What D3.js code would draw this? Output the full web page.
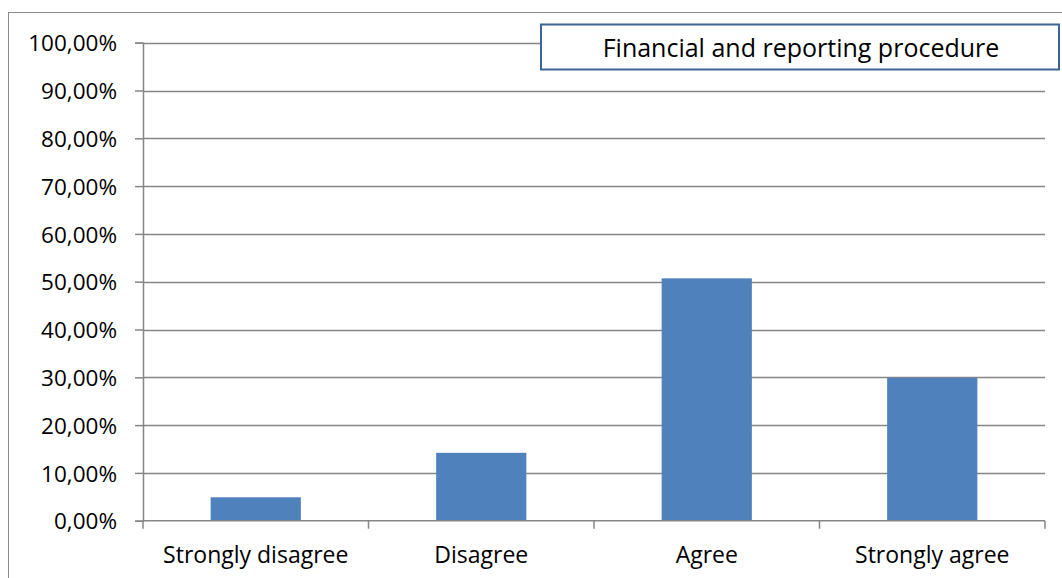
<!DOCTYPE html>
<html>
<head>
<meta charset="utf-8">
<script src="https://cdn.jsdelivr.net/npm/d3@7"></script>
<style>
  html, body { margin: 0; padding: 0; background: #fff; }
  svg { display: block; font-family: "Open Sans", "Noto Sans", sans-serif; }
</style>
</head>
<body>
<svg id="chart" width="1062" height="578"></svg>
<script>
const categories = ["Strongly disagree", "Disagree", "Agree", "Strongly agree"];
const values = [0.049, 0.142, 0.507, 0.299];
const yTicks = [0, 0.1, 0.2, 0.3, 0.4, 0.5, 0.6, 0.7, 0.8, 0.9, 1.0];
const seriesName = "Financial and reporting procedure";

const svg = d3.select("#chart");
const plot = { left: 143, right: 1045, top: 42.7, bottom: 520.7 };

// outer chart border
svg.append("rect")
  .attr("x", 8.5).attr("y", 12.5)
  .attr("width", 1062).attr("height", 600)
  .attr("fill", "none").attr("stroke", "#8c8c8c").attr("stroke-width", 1);

const x = d3.scaleBand().domain(categories)
  .range([plot.left, plot.right]).paddingInner(0.6).paddingOuter(0.3);
const y = d3.scaleLinear().domain([0, 1]).range([plot.bottom, plot.top]);

const fmt = v => d3.format(".2f")(v * 100).replace(".", ",") + "%";

// gridlines
svg.append("g").selectAll("line").data(yTicks.slice(1)).join("line")
  .attr("x1", plot.left).attr("x2", plot.right)
  .attr("y1", d => Math.round(y(d)) + 0.5).attr("y2", d => Math.round(y(d)) + 0.5)
  .attr("stroke", "#868686").attr("stroke-width", 1.5);

// bars
svg.append("g").selectAll("rect").data(values).join("rect")
  .attr("x", (d, i) => x(categories[i]))
  .attr("width", x.bandwidth())
  .attr("y", d => y(d))
  .attr("height", d => y(0) - y(d))
  .attr("fill", "#4f81bd");

// y axis
const yAxis = d3.axisLeft(y).tickValues(yTicks).tickFormat(fmt).tickSize(8).tickPadding(18);
const gy = svg.append("g").attr("transform", `translate(${plot.left},0)`).call(yAxis);
gy.attr("font-family", null).attr("font-size", null);
gy.select(".domain").attr("stroke", "#868686").attr("stroke-width", 1.5);
gy.selectAll(".tick line").attr("stroke", "#868686").attr("stroke-width", 1.5);
gy.selectAll(".tick text").style("font-size", "22.5px").attr("fill", "#000")
  .attr("dy", "0.36em");

// x axis
const xAxis = d3.axisBottom(x).tickSize(0).tickPadding(22);
const gx = svg.append("g").attr("transform", `translate(0,${plot.bottom})`).call(xAxis);
gx.attr("font-family", null).attr("font-size", null);
gx.select(".domain").attr("stroke", "#868686").attr("stroke-width", 1.5)
  .attr("d", `M${plot.left},0H${plot.right}`);
gx.selectAll(".tick text").style("font-size", "23px").attr("fill", "#000")
  .attr("y", 42).attr("dy", 0);
// category boundary ticks
const bounds = categories.map(c => x(c) - x.step() * x.paddingInner() / 2)
  .concat([plot.right]);
gx.append("g").selectAll("line").data(bounds).join("line")
  .attr("x1", d => d).attr("x2", d => d).attr("y1", 0).attr("y2", 8)
  .attr("stroke", "#868686").attr("stroke-width", 1.5);

// legend box
const lg = svg.append("g");
lg.append("rect").attr("x", 541).attr("y", 24.5).attr("width", 518).attr("height", 45)
  .attr("fill", "#fff").attr("stroke", "#3d6496").attr("stroke-width", 2);
lg.append("text").attr("x", 801).attr("y", 57)
  .attr("text-anchor", "middle").style("font-size", "25px").attr("fill", "#000")
  .text(seriesName);
</script>
</body>
</html>
